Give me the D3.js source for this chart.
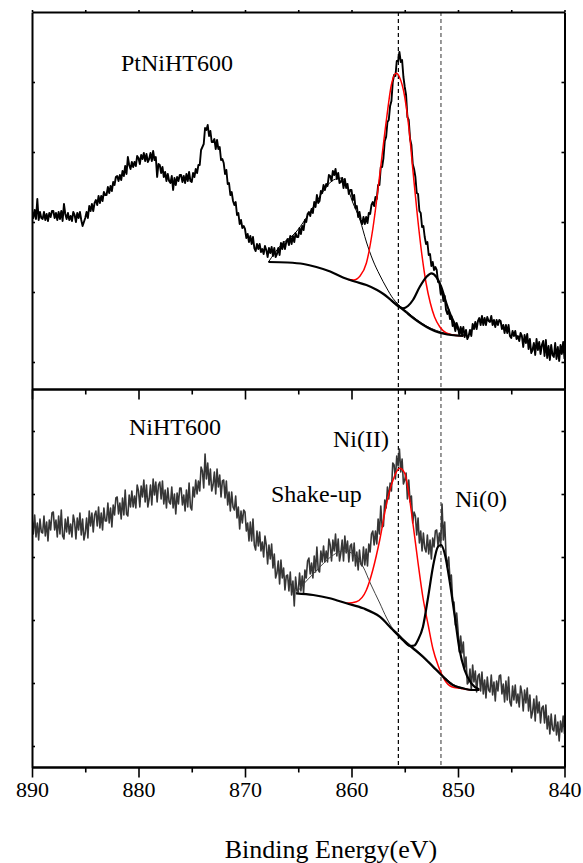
<!DOCTYPE html>
<html>
<head>
<meta charset="utf-8">
<script src="https://cdn.jsdelivr.net/npm/d3@7"></script>
<style>
body{margin:0;background:#fff}
svg{display:block}
text{font-family:"Liberation Serif","Times New Roman",serif;fill:#000}
</style>
</head>
<body>
<svg id="chart" width="583" height="863"></svg>
<script>
// ---------------- data ----------------
// binding energy grid (eV), 0.125 eV steps
const energy = [
890,889.875,889.75,889.625,889.5,889.375,889.25,889.125,
889,888.875,888.75,888.625,888.5,888.375,888.25,888.125,
888,887.875,887.75,887.625,887.5,887.375,887.25,887.125,
887,886.875,886.75,886.625,886.5,886.375,886.25,886.125,
886,885.875,885.75,885.625,885.5,885.375,885.25,885.125,
885,884.875,884.75,884.625,884.5,884.375,884.25,884.125,
884,883.875,883.75,883.625,883.5,883.375,883.25,883.125,
883,882.875,882.75,882.625,882.5,882.375,882.25,882.125,
882,881.875,881.75,881.625,881.5,881.375,881.25,881.125,
881,880.875,880.75,880.625,880.5,880.375,880.25,880.125,
880,879.875,879.75,879.625,879.5,879.375,879.25,879.125,
879,878.875,878.75,878.625,878.5,878.375,878.25,878.125,
878,877.875,877.75,877.625,877.5,877.375,877.25,877.125,
877,876.875,876.75,876.625,876.5,876.375,876.25,876.125,
876,875.875,875.75,875.625,875.5,875.375,875.25,875.125,
875,874.875,874.75,874.625,874.5,874.375,874.25,874.125,
874,873.875,873.75,873.625,873.5,873.375,873.25,873.125,
873,872.875,872.75,872.625,872.5,872.375,872.25,872.125,
872,871.875,871.75,871.625,871.5,871.375,871.25,871.125,
871,870.875,870.75,870.625,870.5,870.375,870.25,870.125,
870,869.875,869.75,869.625,869.5,869.375,869.25,869.125,
869,868.875,868.75,868.625,868.5,868.375,868.25,868.125,
868,867.875,867.75,867.625,867.5,867.375,867.25,867.125,
867,866.875,866.75,866.625,866.5,866.375,866.25,866.125,
866,865.875,865.75,865.625,865.5,865.375,865.25,865.125,
865,864.875,864.75,864.625,864.5,864.375,864.25,864.125,
864,863.875,863.75,863.625,863.5,863.375,863.25,863.125,
863,862.875,862.75,862.625,862.5,862.375,862.25,862.125,
862,861.875,861.75,861.625,861.5,861.375,861.25,861.125,
861,860.875,860.75,860.625,860.5,860.375,860.25,860.125,
860,859.875,859.75,859.625,859.5,859.375,859.25,859.125,
859,858.875,858.75,858.625,858.5,858.375,858.25,858.125,
858,857.875,857.75,857.625,857.5,857.375,857.25,857.125,
857,856.875,856.75,856.625,856.5,856.375,856.25,856.125,
856,855.875,855.75,855.625,855.5,855.375,855.25,855.125,
855,854.875,854.75,854.625,854.5,854.375,854.25,854.125,
854,853.875,853.75,853.625,853.5,853.375,853.25,853.125,
853,852.875,852.75,852.625,852.5,852.375,852.25,852.125,
852,851.875,851.75,851.625,851.5,851.375,851.25,851.125,
851,850.875,850.75,850.625,850.5,850.375,850.25,850.125,
850,849.875,849.75,849.625,849.5,849.375,849.25,849.125,
849,848.875,848.75,848.625,848.5,848.375,848.25,848.125,
848,847.875,847.75,847.625,847.5,847.375,847.25,847.125,
847,846.875,846.75,846.625,846.5,846.375,846.25,846.125,
846,845.875,845.75,845.625,845.5,845.375,845.25,845.125,
845,844.875,844.75,844.625,844.5,844.375,844.25,844.125,
844,843.875,843.75,843.625,843.5,843.375,843.25,843.125,
843,842.875,842.75,842.625,842.5,842.375,842.25,842.125,
842,841.875,841.75,841.625,841.5,841.375,841.25,841.125,
841,840.875,840.75,840.625,840.5,840.375,840.25,840.125,
840];

// PtNiHT600 measured intensity (a.u.)
const ptNiSpectrum = [
178,171,179,170,190,169,177,171,
170,177,169,175,168,176,172,178,
178,171,176,169,177,170,178,168,
185,175,170,176,169,173,168,177,
174,167,176,171,177,169,163,167,
171,177,171,183,178,185,178,186,
189,184,193,186,193,188,197,194,
194,202,196,203,198,207,204,212,
213,208,214,209,218,213,223,215,
232,224,220,227,222,227,223,233,
231,225,234,230,236,228,235,227,
230,236,228,238,229,232,212,225,
224,216,222,212,217,208,215,208,
206,213,199,211,204,212,208,214,
214,207,213,206,215,208,217,208,
207,216,212,220,216,224,224,239,
242,245,261,259,264,253,258,247,
247,250,240,249,240,242,229,230,
226,215,219,205,206,194,197,188,
184,187,174,176,165,169,161,163,
160,151,155,147,153,145,152,141,
138,145,140,145,137,140,135,143,
139,132,141,136,142,133,141,132,
135,141,134,146,140,147,140,147,
150,144,153,145,153,147,156,152,
152,161,155,163,159,169,167,175,
177,173,180,176,187,182,194,186,
188,198,196,204,199,205,203,214,
213,208,218,214,220,210,216,206,
207,211,201,210,201,205,195,199,
199,189,194,181,183,172,177,169,
165,172,165,172,166,176,175,184,
187,183,192,190,204,204,222,222,
231,248,252,267,269,283,288,307,
314,313,328,328,337,327,329,312,
302,294,272,269,250,244,225,220,
212,196,195,178,176,162,163,152,
145,147,134,135,123,127,119,122,
119,107,107,95,99,88,93,79,
75,79,70,73,63,65,58,66,
62,54,62,56,62,52,59,50,
53,59,53,65,60,67,60,68,
71,64,73,64,71,64,72,68,
67,73,64,69,62,69,64,69,
68,60,64,56,64,56,64,53,
51,58,53,58,50,53,48,56,
53,42,54,46,55,40,50,36,
39,46,34,50,39,47,35,44,
48,33,49,31,43,29,44,34,
32,46,30,42,28,44,35,47,
30];

// NiHT600 measured intensity (a.u.)
const niSpectrum = [
252,236,255,233,247,230,251,238,
237,254,234,248,229,250,240,257,
258,240,250,233,254,236,260,234,
231,251,238,253,236,246,233,255,
248,231,252,240,257,235,251,230,
237,252,232,259,244,257,238,255,
259,244,263,242,257,240,262,249,
249,267,247,262,243,265,255,272,
273,256,267,251,272,255,280,256,
254,275,263,279,263,274,262,285,
279,263,284,273,290,268,285,263,
271,285,265,291,275,288,268,285,
288,271,289,266,280,262,282,268,
266,283,262,276,256,277,266,282,
282,265,275,259,280,263,287,263,
260,283,273,290,276,289,279,303,
299,282,316,291,307,285,301,279,
285,298,276,301,283,295,273,289,
290,272,289,265,278,259,278,263,
260,274,252,263,241,259,247,260,
258,239,247,229,248,229,251,225,
220,239,224,238,219,228,213,234,
225,206,225,211,226,202,216,192,
197,209,186,210,192,202,180,194,
195,179,198,175,189,164,193,179,
178,197,179,194,177,200,192,209,
212,196,207,192,214,198,223,200,
198,219,208,224,208,219,208,231,
225,209,230,219,236,214,231,209,
217,230,209,234,217,229,208,224,
226,209,227,204,218,200,220,206,
204,223,205,221,204,226,218,236,
239,225,239,226,251,236,264,243,
244,270,262,283,271,287,279,307,
305,291,314,304,321,298,311,286,
290,297,271,290,268,274,247,258,
254,235,252,227,239,219,237,222,
218,235,216,230,211,232,223,239,
240,224,237,224,266,230,248,215,
203,213,190,195,168,168,145,157,
140,118,134,117,128,102,113,86,
88,101,80,105,88,99,78,94,
96,79,98,76,90,72,93,80,
78,95,75,88,69,89,79,94,
95,76,86,68,89,70,93,68,
64,84,70,85,67,76,63,84,
77,59,80,67,82,59,75,52,
58,71,49,74,57,68,47,62,
64,47,65,41,54,36,56,41,
39,55,35,48,29,49,38,54,
36];

// fitted components [binding energy, intensity]
const ptNiBackground = [[867.8,127],[866,126.5],[864.5,125],[863.3,122],[862,117.5],[860.8,111.5],[859.7,107.5],[858.6,104],[857.6,99],[857,95],[856.3,89],[855.6,83],[854.9,77],[854.2,71],[853.4,65],[852.6,60],[851.8,56.5],[851,54.5],[850.2,53.5],[849.5,53.2]];
const ptNiNi2 = [[860.3,109.5],[859.8,109],[859.2,113],[858.6,126],[858.0,160],[857.35,214],[856.7,271],[856.26,304],[855.8,315.7],[855.5,312],[855.0,292],[854.6,260],[854.2,215],[853.8,172],[853.4,135],[853.0,106],[852.6,86],[852.2,72],[851.7,62],[851.1,56],[850.2,53.5],[849.5,53.2]];
const ptNiNi0 = [[856.3,89],[855.64,83],[855.17,80.7],[854.7,83],[854.23,89],[853.6,102],[852.97,112],[852.5,115.7],[852.03,112],[851.57,102],[851.1,86],[850.63,72.5],[850.16,62.5],[849.7,56],[849.5,53.2]];
const ptNiShake = [[867.8,127],[866.7,143],[865.2,157],[863.6,182],[862.7,197],[861.7,209],[860.9,211],[860.5,205],[859.9,187],[859.2,169],[858.6,147],[858.0,129],[857.35,114],[856.7,101],[856.1,90.5],[855.6,84.5],[854.8,77.5],[853.9,69.5],[852.97,63],[852.03,58.5],[851.1,55.5],[850.2,54],[849.5,53.3]];

const niBackground = [[865.2,176.7],[863.6,175],[862.04,171.7],[860.48,166.7],[858.9,161.7],[857.35,153.3],[856.1,140],[855.6,135],[855.17,130],[854.23,121.7],[853.3,113.3],[852.35,103.3],[851.4,93.3],[850.5,85],[849.54,81.7],[848.6,80],[848.0,80]];
const niNi2 = [[860.5,166.7],[859.54,168.3],[858.6,180],[858.0,200],[857.35,230],[856.7,266.7],[856.1,290],[855.48,301.7],[855.0,296.7],[854.6,275],[854.2,244],[853.75,207],[853.3,173],[852.8,145],[852.35,121],[851.85,104],[851.25,90],[850.6,83.3],[849.8,81.7],[848.6,80],[848.0,80]];
const niNi0 = [[856.1,140],[855.17,130],[854.5,124],[854.1,124.5],[853.76,130],[853.29,143.3],[852.8,173.3],[852.35,203.3],[851.88,223.3],[851.57,225],[851.26,216.7],[850.8,190],[850.3,153.3],[849.85,120],[849.38,100],[848.75,86.7],[848.0,80.5]];
const niShake = [[865.2,176.7],[864.5,186],[863.6,196],[862.6,207],[861.7,215],[860.9,219],[860.2,218],[859.5,212],[858.9,203],[858.2,186],[857.35,167],[856.7,152],[856.1,141],[855.6,136],[855.17,131.5],[854.23,123],[853.3,114.5],[852.35,104.5],[851.4,94.5],[850.5,86],[849.5,82],[848.6,80.3],[848,80.2]];

const xMajorTicks = [890,880,870,860,850,840];
const xMinorTicks = [885,875,865,855,845];
const topYTicks = [27,97,167,237,307];
const bottomYTicks = [24,87,150,213,276,339];
const refLines = [855.6, 851.6];
const refColors = ["#000","#555"];

// ---------------- layout ----------------
const L = 32, R = 564.5, T = 12, M = 389, B = 767;
const svg = d3.select("#chart");

const x = d3.scaleLinear().domain([890, 840]).range([L, R]);
const yTop = d3.scaleLinear().domain([0, 377]).range([M, T]);
const yBot = d3.scaleLinear().domain([3, 381]).range([B, M]);

const defs = svg.append("defs");
defs.append("clipPath").attr("id","clipTop").append("rect").attr("x",L).attr("y",T).attr("width",R-L).attr("height",M-T);
defs.append("clipPath").attr("id","clipBot").append("rect").attr("x",L).attr("y",M).attr("width",R-L).attr("height",B-M);

refLines.forEach((e,i)=>{
  svg.append("line").attr("x1",x(e)).attr("x2",x(e)).attr("y1",T).attr("y2",B)
    .attr("stroke",refColors[i]).attr("stroke-width",1.2).attr("stroke-dasharray","4,3");
});

function drawPanel(clipId, ys, spectrum, specColor, specWidth, bg, ni2, ni0, shake, shakeColor){
  const g = svg.append("g").attr("clip-path",`url(#${clipId})`);
  const specLine = d3.line().x((d,i)=>x(energy[i])).y(d=>ys(d));
  g.append("path").datum(spectrum).attr("d",specLine).attr("fill","none")
    .attr("stroke",specColor).attr("stroke-width",specWidth).attr("stroke-linejoin","round");
  const fit = d3.line().x(d=>x(d[0])).y(d=>ys(d[1])).curve(d3.curveMonotoneX);
  g.append("path").datum(shake).attr("d",fit).attr("fill","none").attr("stroke",shakeColor).attr("stroke-width",1);
  g.append("path").datum(ni2).attr("d",fit).attr("fill","none").attr("stroke","#ff0000").attr("stroke-width",1.5);
  g.append("path").datum(ni0).attr("d",fit).attr("fill","none").attr("stroke","#000").attr("stroke-width",2.2);
  g.append("path").datum(bg).attr("d",fit).attr("fill","none").attr("stroke","#000").attr("stroke-width",2.2);
}

drawPanel("clipTop", yTop, ptNiSpectrum, "#000", 1.9, ptNiBackground, ptNiNi2, ptNiNi0, ptNiShake, "#000");
drawPanel("clipBot", yBot, niSpectrum, "#363636", 1.6, niBackground, niNi2, niNi0, niShake, "#444");

// ---------------- axes ----------------
function styleAxis(g){
  g.select(".domain").attr("stroke","#000").attr("stroke-width",2);
  g.selectAll(".tick line").attr("stroke","#000").attr("stroke-width",1.6);
}
const bx = svg.append("g").attr("transform",`translate(0,${B})`)
  .call(d3.axisBottom(x).tickValues(xMajorTicks).tickSize(10.5).tickSizeOuter(0).tickPadding(4).tickFormat(d3.format("d")));
styleAxis(bx);
bx.selectAll(".tick text").style("font-size","22px").style("font-family",'"Liberation Serif","Times New Roman",serif').attr("fill","#000");
const bxm = svg.append("g").attr("transform",`translate(0,${B})`)
  .call(d3.axisBottom(x).tickValues(xMinorTicks).tickSize(5.5).tickSizeOuter(0).tickFormat(""));
styleAxis(bxm);
const mx = svg.append("g").attr("transform",`translate(0,${M})`)
  .call(d3.axisBottom(x).tickValues(xMajorTicks).tickSize(10.5).tickSizeOuter(0).tickFormat(""));
styleAxis(mx);
const mxm = svg.append("g").attr("transform",`translate(0,${M})`)
  .call(d3.axisBottom(x).tickValues(xMinorTicks).tickSize(5.5).tickSizeOuter(0).tickFormat(""));
styleAxis(mxm);
const tx = svg.append("g").attr("transform",`translate(0,${T})`)
  .call(d3.axisTop(x).tickValues(xMajorTicks.concat(xMinorTicks)).tickSize(2).tickSizeOuter(0).tickFormat(""));
styleAxis(tx);
[[yTop, topYTicks],[yBot, bottomYTicks]].forEach(([ys, tv])=>{
  const la = svg.append("g").attr("transform",`translate(${L},0)`)
    .call(d3.axisLeft(ys).tickValues(tv).tickSize(-3).tickSizeOuter(0).tickFormat(""));
  styleAxis(la);
  const ra = svg.append("g").attr("transform",`translate(${R},0)`)
    .call(d3.axisRight(ys).tickValues(tv).tickSize(-3).tickSizeOuter(0).tickFormat(""));
  styleAxis(ra);
});

// ---------------- text ----------------
const labels = [
  {t:"PtNiHT600", x:121, y:71},
  {t:"NiHT600", x:129, y:435},
  {t:"Ni(II)", x:333, y:447},
  {t:"Shake-up", x:271, y:502},
  {t:"Ni(0)", x:455, y:507}
];
svg.selectAll("text.lbl").data(labels).enter().append("text").attr("class","lbl")
  .attr("x",d=>d.x).attr("y",d=>d.y).style("font-size","24px").text(d=>d.t);

svg.append("text").attr("x",331).attr("y",858).attr("text-anchor","middle")
  .style("font-size","26px").text("Binding Energy(eV)");
</script>
</body>
</html>
